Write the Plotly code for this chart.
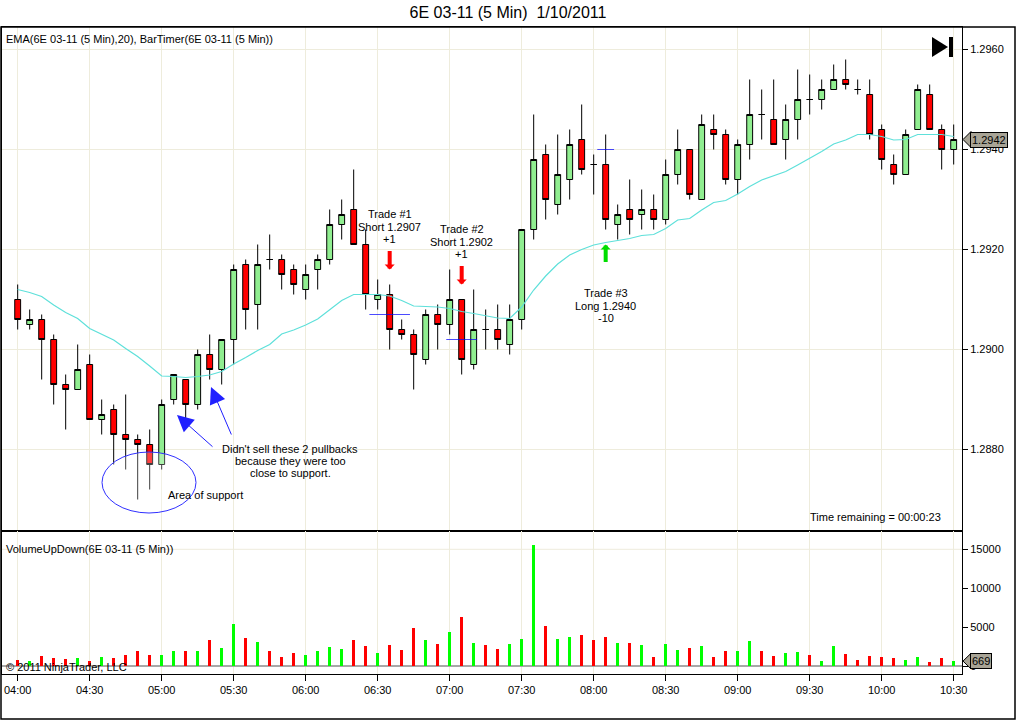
import pandas as pd
import plotly.graph_objects as go
from plotly.subplots import make_subplots

# 5 minute bars of 6E 03-11 on 1/10/2011
times = pd.date_range("2011-01-10 04:00", periods=79, freq="5min")

opens = [
    1.2910, 1.2905, 1.2906, 1.2902, 1.2893, 1.2892, 1.2897, 1.2886, 1.2888, 1.2883,
    1.2882, 1.2881, 1.2877, 1.2890, 1.2894, 1.2889, 1.2899, 1.2896, 1.2902, 1.2917,
    1.2909, 1.2918, 1.2918, 1.2916, 1.2912, 1.2916, 1.2918, 1.2925, 1.2928, 1.2921,
    1.2910, 1.2911, 1.2904, 1.2903, 1.2898, 1.2907, 1.2905, 1.2910, 1.2897, 1.2904,
    1.2904, 1.2901, 1.2906, 1.2924, 1.2939, 1.2929, 1.2934, 1.2942, 1.2937, 1.2937,
    1.2925, 1.2928, 1.2927, 1.2928, 1.2926, 1.2935, 1.2940, 1.2930, 1.2944, 1.2943,
    1.2934, 1.2941, 1.2947, 1.2946, 1.2942, 1.2946, 1.2950, 1.2950, 1.2952, 1.2954,
    1.2952, 1.2951, 1.2944, 1.2937, 1.2935, 1.2944, 1.2951, 1.2944, 1.2940,
]
highs = [
    1.2913, 1.2908, 1.2907, 1.2903, 1.2895, 1.2901, 1.2899, 1.2890, 1.2889, 1.2891,
    1.2883, 1.2884, 1.2890, 1.2895, 1.2894, 1.2900, 1.2903, 1.2902, 1.2917, 1.2918,
    1.2921, 1.2923, 1.2919, 1.2917, 1.2917, 1.2919, 1.2928, 1.2930, 1.2936, 1.2924,
    1.2914, 1.2913, 1.2906, 1.2904, 1.2908, 1.2909, 1.2916, 1.2910, 1.2912, 1.2908,
    1.2909, 1.2909, 1.2924, 1.2947, 1.2941, 1.2943, 1.2944, 1.2949, 1.2939, 1.2943,
    1.2929, 1.2934, 1.2932, 1.2931, 1.2938, 1.2944, 1.2940, 1.2947, 1.2947, 1.2944,
    1.2942, 1.2954, 1.2952, 1.2954, 1.2949, 1.2956, 1.2955, 1.2954, 1.2957, 1.2958,
    1.2954, 1.2954, 1.2945, 1.2939, 1.2944, 1.2953, 1.2953, 1.2945, 1.2945,
]
lows = [
    1.2904, 1.2904, 1.2894, 1.2889, 1.2884, 1.2892, 1.2886, 1.2883, 1.2877, 1.2876,
    1.2870, 1.2872, 1.2876, 1.2889, 1.2886, 1.2888, 1.2894, 1.2893, 1.2897, 1.2904,
    1.2904, 1.2916, 1.2912, 1.2911, 1.2910, 1.2912, 1.2917, 1.2922, 1.2921, 1.2908,
    1.2908, 1.2900, 1.2902, 1.2892, 1.2897, 1.2900, 1.2903, 1.2895, 1.2896, 1.2900,
    1.2900, 1.2899, 1.2904, 1.2922, 1.2926, 1.2927, 1.2930, 1.2935, 1.2931, 1.2924,
    1.2922, 1.2923, 1.2924, 1.2924, 1.2925, 1.2933, 1.2930, 1.2930, 1.2940, 1.2933,
    1.2931, 1.2938, 1.2942, 1.2941, 1.2938, 1.2942, 1.2947, 1.2948, 1.2952, 1.2952,
    1.2951, 1.2942, 1.2936, 1.2933, 1.2935, 1.2944, 1.2944, 1.2936, 1.2937,
]
closes = [
    1.2906, 1.2906, 1.2902, 1.2893, 1.2892, 1.2896, 1.2886, 1.2887, 1.2883, 1.2882,
    1.2881, 1.2877, 1.2889, 1.2895, 1.2889, 1.2899, 1.2896, 1.2902, 1.2916, 1.2908,
    1.2917, 1.2918, 1.2915, 1.2913, 1.2915, 1.2918, 1.2925, 1.2927, 1.2921, 1.2911,
    1.2911, 1.2904, 1.2903, 1.2899, 1.2907, 1.2905, 1.2910, 1.2898, 1.2904, 1.2904,
    1.2902, 1.2906, 1.2924, 1.2938, 1.2930, 1.2935, 1.2941, 1.2936, 1.2937, 1.2926,
    1.2927, 1.2926, 1.2928, 1.2926, 1.2935, 1.2940, 1.2931, 1.2945, 1.2943, 1.2934,
    1.2941, 1.2947, 1.2947, 1.2941, 1.2946, 1.2950, 1.2950, 1.2952, 1.2954, 1.2953,
    1.2952, 1.2943, 1.2938, 1.2935, 1.2943, 1.2952, 1.2944, 1.2940, 1.2942,
]
# EMA(20) line as drawn on the chart
ema20 = [
    1.29120, 1.29114, 1.29106, 1.29089, 1.29074, 1.29062, 1.29042, 1.29031, 1.29019, 1.29002,
    1.28986, 1.28967, 1.28947, 1.28946, 1.28944, 1.28946, 1.28949, 1.28956, 1.28971, 1.28984,
    1.28998, 1.29010, 1.29031, 1.29039, 1.29049, 1.29061, 1.29079, 1.29098, 1.29110, 1.29110,
    1.29110, 1.29107, 1.29098, 1.29087, 1.29086, 1.29085, 1.29082, 1.29076, 1.29072, 1.29068,
    1.29063, 1.29062, 1.29085, 1.29119, 1.29147, 1.29171, 1.29189, 1.29200, 1.29209, 1.29214,
    1.29218, 1.29222, 1.29228, 1.29230, 1.29242, 1.29259, 1.29262, 1.29279, 1.29294, 1.29298,
    1.29311, 1.29326, 1.29339, 1.29347, 1.29356, 1.29369, 1.29382, 1.29396, 1.29411, 1.29419,
    1.29430, 1.29430, 1.29426, 1.29419, 1.29420, 1.29430, 1.29430, 1.29430, 1.29426,
]
volumes = [
    800, 700, 1300, 1100, 900, 1100, 700, 1200, 1100, 1450,
    1950, 1450, 1450, 1950, 1950, 1950, 3350, 2350, 5400, 3600,
    3100, 1950, 1200, 1700, 1450, 1950, 2450, 2200, 3350, 2600,
    1700, 2700, 2100, 4900, 3350, 2850, 4400, 6300, 3000, 2700,
    2200, 2850, 3500, 15600, 5150, 3500, 3750, 4000, 3350, 3750,
    3000, 3000, 2700, 1200, 2850, 2100, 2350, 2600, 1200, 1950,
    1950, 3200, 1950, 1300, 1700, 1850, 1450, 700, 2600, 1550,
    800, 1300, 1200, 1050, 800, 1200, 550, 1050, 669,
]

# trades marked on the chart
trade_bars = [31, 37, 49]
trade_prices = [1.2907, 1.2902, 1.2940]
trade_sides = ["short", "short", "long"]
trade_labels = [
    ["Trade #1", "Short 1.2907", "+1"],
    ["Trade #2", "Short 1.2902", "+1"],
    ["Trade #3", "Long 1.2940", "-10"],
]

FONT = "Liberation Sans, Arial, sans-serif"
GRID = "#EEECDC"

# plot area in page pixels
PL, PR, PT, PB = 2, 962, 27, 674
SPLIT = 531


def px(x):
    """page x pixel -> paper x"""
    return (x - PL) / (PR - PL)


def py(y):
    """page y pixel -> paper y"""
    return (PB - y) / (PB - PT)


def note(text, x, y, anchor="center", size=11):
    # plain text placed by page pixels
    fig.add_annotation(x=px(x), y=py(y), xref="paper", yref="paper", text=text, showarrow=False,
                       xanchor=anchor, yanchor="middle", font=dict(size=size, color="black"))


fig = make_subplots(rows=2, cols=1, shared_xaxes=True, vertical_spacing=0)

fig.add_trace(
    go.Candlestick(
        x=times, open=opens, high=highs, low=lows, close=closes,
        increasing=dict(fillcolor="#90EE90", line=dict(color="black", width=1)),
        decreasing=dict(fillcolor="#FF0000", line=dict(color="black", width=1)),
        whiskerwidth=0, hoverinfo="skip", showlegend=False,
    ),
    row=1, col=1,
)
fig.add_trace(
    go.Scatter(x=times, y=ema20, mode="lines", line=dict(color="#5EE0DA", width=1.2),
               hoverinfo="skip", showlegend=False),
    row=1, col=1,
)
# trade entry marks
fig.add_trace(
    go.Scatter(
        x=[times[b] for b in trade_bars], y=trade_prices, mode="markers",
        marker=dict(symbol="line-ew", size=[29, 22, 12], line=dict(color="#0000FF", width=1)),
        hoverinfo="skip", showlegend=False,
    ),
    row=1, col=1,
)

vol_colors = ["#00FF00" if c > o else "#FF0000" for o, c in zip(opens, closes)]
fig.add_trace(
    go.Bar(x=times, y=volumes, marker=dict(color=vol_colors, line=dict(width=0)),
           width=75000, hoverinfo="skip", showlegend=False),
    row=2, col=1,
)

x_range = [times[0] - pd.Timedelta(seconds=392), times[-1] + pd.Timedelta(seconds=208)]
axis_common = dict(showline=True, mirror=True, linecolor="black", linewidth=1,
                   zeroline=False, automargin=False)
fig.update_xaxes(
    range=x_range, tick0=times[0], dtick=30 * 60 * 1000, tickformat="%H:%M",
    showgrid=True, gridcolor=GRID, gridwidth=1, rangeslider_visible=False, **axis_common
)
fig.update_xaxes(ticks="", showticklabels=False, row=1, col=1)
fig.update_xaxes(ticks="outside", ticklen=6, tickcolor="black", showticklabels=True, row=2, col=1)

fig.update_yaxes(
    side="right", range=[1.28637, 1.29645], tick0=1.288, dtick=0.002, tickformat=".4f",
    ticks="outside", ticklen=5, tickcolor="black", showgrid=True, gridcolor=GRID,
    domain=[py(SPLIT), 1], row=1, col=1, **axis_common
)
fig.update_yaxes(
    side="right", range=[-987, 17346], tickvals=[0, 5000, 10000, 15000], tickformat="d",
    ticks="outside", ticklen=5, tickcolor="black", showgrid=False,
    domain=[0, py(SPLIT)], row=2, col=1,
    showline=True, mirror=True, linecolor="black", linewidth=1, automargin=False,
    zeroline=True, zerolinecolor="#A8A8A8", zerolinewidth=2,
)
fig.add_hline(y=15000, line=dict(color=GRID, width=1), layer="below", row=2, col=1)

# trade arrows and labels
for b, side, label in zip(trade_bars, trade_sides, trade_labels):
    if side == "short":
        tip, color, ay, shifts = highs[b] + 0.0003, "#FF0000", -20, [55.5, 43, 30.5]
    else:
        tip, color, ay, shifts = lows[b] - 0.0003, "#00DD00", 19, [-48, -61, -73]
    fig.add_annotation(x=times[b], y=tip, xref="x", yref="y", text="", showarrow=True,
                       ax=0, ay=ay, arrowhead=1, arrowsize=0.42, arrowwidth=4, arrowcolor=color)
    for line, s in zip(label, shifts):
        fig.add_annotation(x=times[b], y=tip, xref="x", yref="y", text=line, showarrow=False,
                           xanchor="center", yanchor="middle", yshift=s,
                           font=dict(size=11, color="black"))

# notes drawn on the chart
note_lines = ["Didn't sell these 2 pullbacks", "because they were too", "close to support."]
for line, y in zip(note_lines, [449, 461, 473]):
    note(line, 290, y)
for tip, tail in [((177, 415), (214, 448)), ((211, 387), (232, 436))]:
    fig.add_annotation(x=px(tip[0]), y=py(tip[1]), xref="paper", yref="paper", text="",
                       showarrow=True, ax=tail[0] - tip[0], ay=tail[1] - tip[1],
                       arrowhead=2, arrowsize=3.3, arrowwidth=1, arrowcolor="#2020FF")
note("Area of support", 205, 495)
fig.add_shape(type="circle", xref="paper", yref="paper", x0=px(102), x1=px(196),
              y0=py(452), y1=py(513), line=dict(color="#3030FF", width=1),
              fillcolor="rgba(255,255,255,0.25)", layer="above")

# panel texts
note("EMA(6E 03-11 (5 Min),20), BarTimer(6E 03-11 (5 Min))", 4, 39, "left")
note("VolumeUpDown(6E 03-11 (5 Min))", 4, 549, "left")
note("\u00a9 2011 NinjaTrader, LLC", 4, 667, "left")
note("Time remaining = 00:00:23", 875, 517)

# last value tags on the axes
tags = [(closes[-1], "y", f"{closes[-1]:.4f}", 0.00016), (volumes[-1], "y2", f"{volumes[-1]}", 1000)]
for val, yref, label, half in tags:
    fig.add_shape(type="path", xref="paper", yref=yref,
                  path=f"M {px(963)} {val} L {px(971)} {val + half} L {px(971)} {val - half} Z",
                  fillcolor="#A8A496", line=dict(color="black", width=1))
    fig.add_annotation(x=px(970), y=val, xref="paper", yref=yref, text=label, showarrow=False,
                       xanchor="left", yanchor="middle", bgcolor="#A8A496", bordercolor="black",
                       borderwidth=1, borderpad=1, font=dict(size=11, color="black"))

# bar timer icon and outer frame
fig.add_shape(type="path", xref="paper", yref="paper", fillcolor="black", line=dict(width=0),
              path=f"M {px(932)} {py(37)} L {px(948)} {py(47)} L {px(932)} {py(57)} Z")
fig.add_shape(type="rect", xref="paper", yref="paper", fillcolor="black", line=dict(width=0),
              x0=px(949), x1=px(953), y0=py(57), y1=py(37))
fig.add_shape(type="rect", xref="paper", yref="paper", x0=px(1), x1=px(1015),
              y0=py(719), y1=py(27), line=dict(color="black", width=1.5))

fig.update_layout(
    width=1016, height=720,
    margin=dict(l=PL, r=1016 - PR, t=PT, b=720 - PB),
    paper_bgcolor="white", plot_bgcolor="white",
    font=dict(family=FONT, size=11, color="black"),
    title=dict(text="6E 03-11 (5 Min)  1/10/2011", x=0.5, xref="container", xanchor="center",
               y=1 - 12 / 720, yref="container", yanchor="middle",
               font=dict(size=16, family=FONT, color="black")),
    showlegend=False, bargap=0,
)

# drop the default page margin so the figure sits at the window's corner
fig.write_html("out.html", config={"displayModeBar": False},
               post_script="document.body.style.margin='0';")
